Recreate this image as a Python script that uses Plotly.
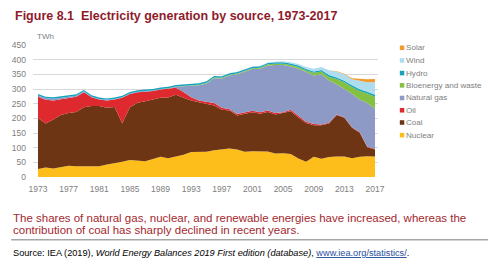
import plotly.graph_objects as go

years = list(range(1973, 2018))

nuclear = [27, 32, 29, 34, 38, 37, 37, 37, 37, 43,
           47, 52, 58, 56, 54, 61, 69, 64, 69, 76,
           85, 85, 86, 91, 95, 97, 94, 86, 88, 87,
           87, 80, 81, 78, 63, 52, 69, 62, 68, 70,
           70, 64, 69, 71, 70]
coal = [174, 150, 167, 177, 180, 185, 201, 205, 205, 193,
        192, 130, 180, 197, 204, 203, 201, 207, 211, 194,
        176, 170, 163, 153, 134, 130, 116, 130, 133, 129,
        135, 133, 137, 146, 140, 132, 107, 114, 114, 141,
        132, 104, 82, 30, 24]
oil = [73, 81, 65, 54, 52, 52, 51, 30, 22, 25,
       25, 88, 45, 36, 33, 29, 28, 29, 24, 20,
       11, 6, 8, 8, 7, 4, 5, 5, 5, 5,
       5, 5, 3, 5, 4, 4, 5, 3, 3, 2,
       2, 2, 2, 2, 2]
natural_gas = [4, 6, 6, 5, 4, 3, 3, 2, 2, 2,
               2, 2, 2, 2, 2, 2, 2, 2, 4, 20,
               39, 52, 62, 85, 100, 115, 135, 138, 142, 148,
               153, 164, 161, 148, 162, 170, 165, 171, 144, 103,
               97, 114, 111, 149, 137]
bioenergy = [0, 0, 0, 0, 0, 0, 0, 0, 0, 0,
             0, 0, 0, 0, 0, 0, 0, 0.5, 0.6, 0.8,
             1, 1.5, 2, 2, 2.5, 3, 3, 3, 3, 3.5,
             4, 4, 4.5, 5, 6, 5, 9, 10, 12, 18,
             22, 23, 29, 33, 41]
hydro = [5, 5, 5, 5, 5, 5, 5, 5, 5, 5,
         5, 5, 5, 5, 5, 5, 5, 5, 5, 5,
         5, 5, 5, 5, 5, 5, 5, 5, 5, 5,
         5, 5, 5, 5, 5, 5, 5, 5, 7, 5,
         5, 6, 6, 6, 6]
wind = [0, 0, 0, 0, 0, 0, 0, 0, 0, 0,
        0, 0, 0, 0, 0, 0, 0, 0, 0.01, 0.03,
        0.2, 0.3, 0.4, 0.5, 0.7, 0.9, 0.9, 0.9, 1.0, 1.3,
        1.3, 1.9, 2.9, 4, 5, 7, 9, 10, 16, 20,
        22, 20, 28, 32, 43]
solar = [0, 0, 0, 0, 0, 0, 0, 0, 0, 0,
         0, 0, 0, 0, 0, 0, 0, 0, 0, 0,
         0, 0, 0, 0, 0, 0, 0, 0, 0, 0,
         0, 0, 0, 0, 0, 0, 0, 0.04, 0.2, 1.4,
         2, 4, 7.5, 10.4, 11.5]

names = ["Nuclear", "Coal", "Oil", "Natural gas", "Bioenergy and waste",
         "Hydro", "Wind", "Solar"]
series = [nuclear, coal, oil, natural_gas, bioenergy, hydro, wind, solar]
colors = ["#FDBE1B", "#6E3514", "#DE2A2E", "#8E9AC6", "#84C041",
          "#17A3BD", "#AEDDEF", "#F39A30"]

xtick_vals = list(range(1973, 2018, 4))
ytick_vals = list(range(0, 451, 50))

FONT = "Liberation Sans, Arial, sans-serif"
W, H = 489, 268
L, R, T, B = 30, 378, 44.5, 177


def px(x):
    return (x - L) / (R - L)


def py(y):
    return (B - y) / (B - T)


fig = go.Figure()
for name, vals, col in zip(names, series, colors):
    fig.add_trace(go.Scatter(
        x=years, y=vals, name=name, mode="lines", stackgroup="one",
        line=dict(width=0, color=col), fillcolor=col, showlegend=False,
    ))

ann = []
shapes = []

# title
ann.append(dict(x=px(9.5), y=py(15.5), xref="paper", yref="paper",
                xanchor="left", yanchor="middle", showarrow=False,
                text="<b>Figure 8.1\u00a0\u00a0Electricity generation by source, 1973-2017</b>",
                font=dict(family=FONT, size=12.5, color="#8E1B2B")))
# unit
ann.append(dict(x=px(32), y=py(35.5), xref="paper", yref="paper",
                xanchor="left", yanchor="middle", showarrow=False,
                text="TWh", font=dict(family=FONT, size=8, color="#808080")))

# manual legend (top to bottom)
leg_y = [47.3, 60, 72.7, 85, 97.7, 110, 122.3, 135]
for name, col, yy in zip(names[::-1], colors[::-1], leg_y):
    shapes.append(dict(type="rect", xref="paper", yref="paper",
                       x0=px(400), x1=px(404.5), y0=py(yy + 2.3), y1=py(yy - 2.3),
                       fillcolor=col, line=dict(width=0)))
    ann.append(dict(x=px(405), y=py(yy), xref="paper", yref="paper",
                    xanchor="left", yanchor="middle", showarrow=False,
                    borderpad=0,
                    text=name, font=dict(family=FONT, size=8.1, color="#808080")))

# statement
ann.append(dict(x=px(8), y=py(218), xref="paper", yref="paper",
                xanchor="left", yanchor="middle", showarrow=False,
                text="The shares of natural gas, nuclear, and renewable energies have increased, whereas the",
                font=dict(family=FONT, size=11.5, color="#A3282E")))
ann.append(dict(x=px(8), y=py(230.5), xref="paper", yref="paper",
                xanchor="left", yanchor="middle", showarrow=False,
                text="contribution of coal has sharply declined in recent years.",
                font=dict(family=FONT, size=11.5, color="#A3282E")))
shapes.append(dict(type="line", xref="paper", yref="paper",
                   x0=px(8), x1=px(489), y0=py(240), y1=py(240),
                   line=dict(color="#A6A6A6", width=1.5)))
ann.append(dict(x=px(8), y=py(253), xref="paper", yref="paper",
                xanchor="left", yanchor="middle", showarrow=False,
                text="Source: IEA (2019), <i>World Energy Balances 2019 First edition (database)</i>, "
                     "<span style='color:#1F4E9C'><u>www.iea.org/statistics/</u></span>.",
                font=dict(family=FONT, size=9.2, color="#000000")))

fig.update_layout(
    width=W, height=H,
    margin=dict(l=L, r=W - R, t=T, b=H - B, pad=0),
    paper_bgcolor="white", plot_bgcolor="white",
    showlegend=False,
    annotations=ann, shapes=shapes,
    font=dict(family=FONT),
    xaxis=dict(range=[1972.35, 2017.39], tickvals=xtick_vals,
               ticktext=[str(v) for v in xtick_vals],
               showgrid=False, zeroline=False, showline=False,
               ticks="", ticklabelstandoff=5,
               tickfont=dict(family=FONT, size=8.5, color="#808080")),
    yaxis=dict(range=[0, 450], tickvals=ytick_vals,
               showgrid=True, gridcolor="#D9D9D9", gridwidth=1,
               zeroline=False, showline=False, ticks="", ticklabelstandoff=6,
               tickfont=dict(family=FONT, size=8.5, color="#808080")),
)

fig.write_html("out.html")
